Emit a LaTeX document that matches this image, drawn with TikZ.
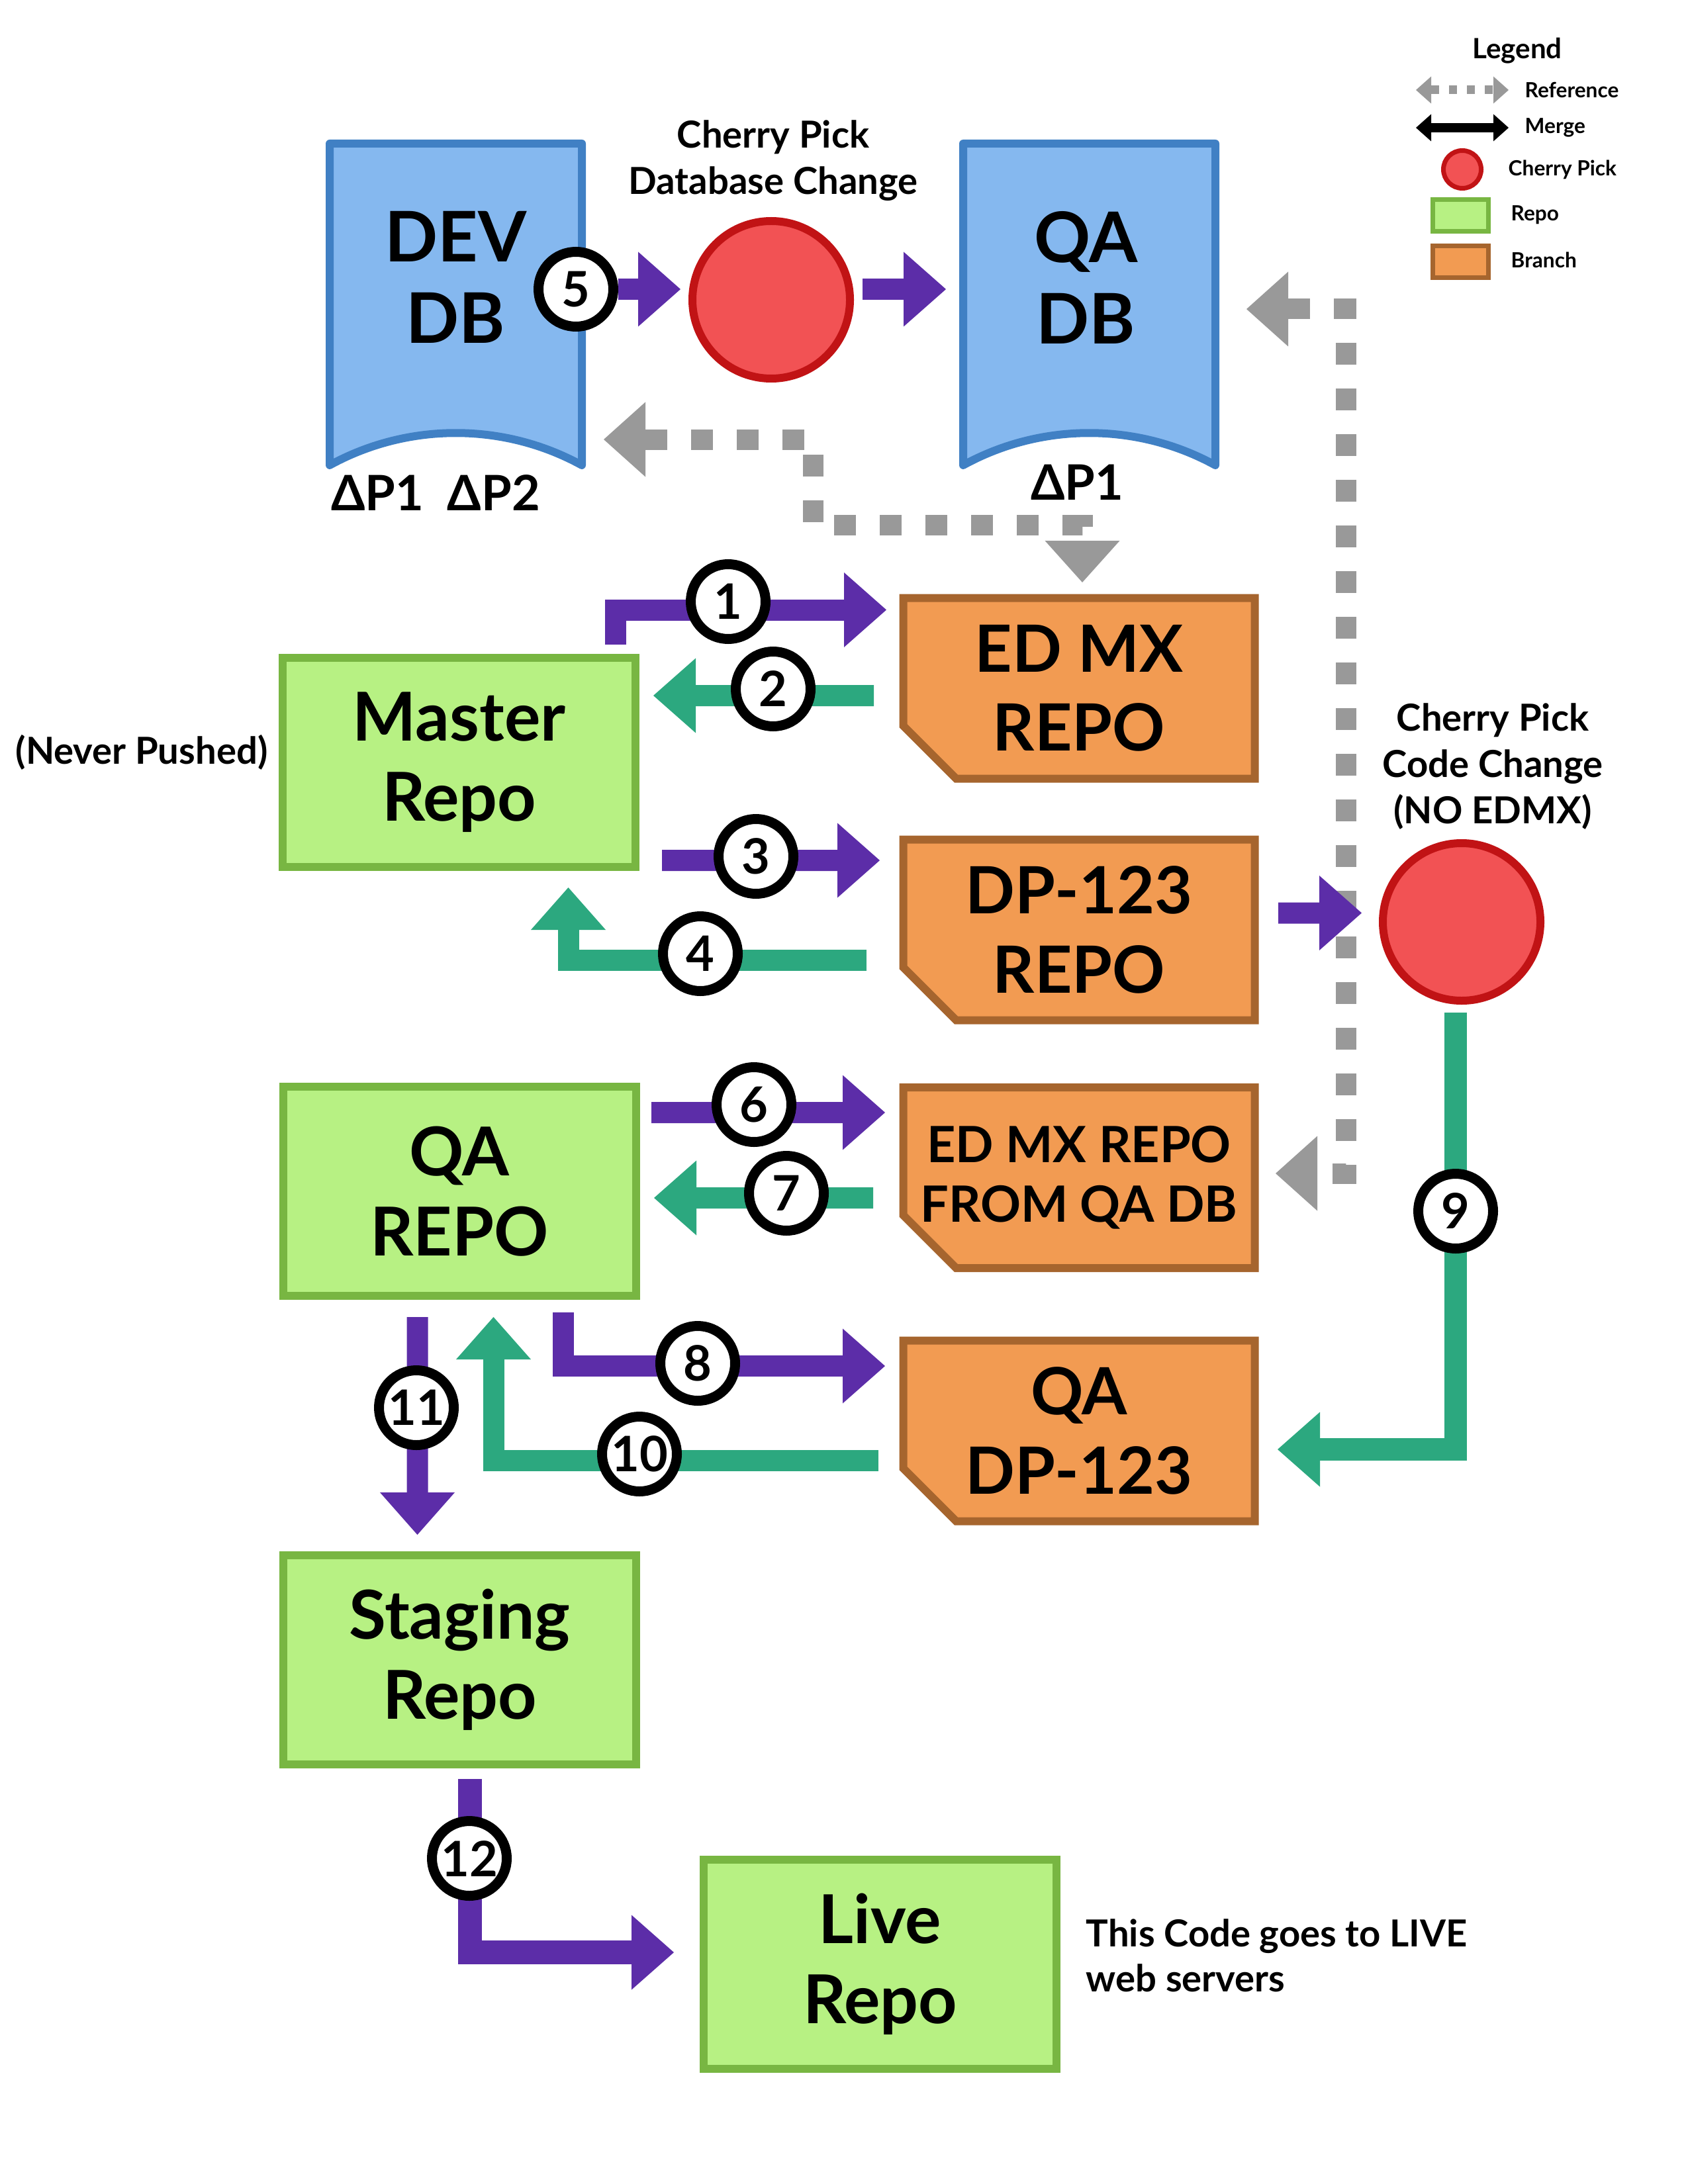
\documentclass[tikz,border=0pt]{standalone}
\usepackage{fontspec}
\setmainfont{Lato}
\usetikzlibrary{arrows.meta,shapes.misc,positioning}

\definecolor{dbfill}{RGB}{133,184,239}
\definecolor{dbline}{RGB}{64,128,196}
\definecolor{repofill}{RGB}{183,241,131}
\definecolor{repoline}{RGB}{120,182,66}
\definecolor{branchfill}{RGB}{242,155,82}
\definecolor{branchline}{RGB}{166,101,46}
\definecolor{pickfill}{RGB}{242,82,84}
\definecolor{pickline}{RGB}{193,19,21}
\definecolor{pushcol}{RGB}{92,45,168}
\definecolor{pullcol}{RGB}{44,168,127}
\definecolor{refgray}{RGB}{153,153,153}

\tikzset{
  repo/.style={draw=repoline, fill=repofill, line width=0.12cm, minimum width=5.33cm,
    minimum height=3.16cm, inner sep=0pt, align=center,
    font=\fontsize{29}{34.5}\selectfont\bfseries},
  branch/.style={chamfered rectangle, chamfered rectangle corners=south west,
    chamfered rectangle xsep=0.68cm, draw=branchline, fill=branchfill, line width=0.12cm,
    minimum width=5.31cm, minimum height=2.73cm, inner sep=0pt, align=center,
    font=\fontsize{28}{34}\selectfont\bfseries},
  dbbox/.style={minimum width=3.81cm, minimum height=4.86cm, inner sep=0pt, outer sep=0pt},
  dbshape/.style={draw=dbline, fill=dbfill, line width=0.12cm, line join=round},
  dbtext/.style={align=center, font=\fontsize{30}{35}\selectfont\bfseries},
  delta/.style={font=\fontsize{21}{25}\selectfont\bfseries},
  pick/.style={circle, draw=pickline, fill=pickfill, line width=0.12cm, minimum size=2.38cm, inner sep=0pt},
  note/.style={align=center, font=\fontsize{16}{20}\selectfont\bfseries},
  badge/.style={circle, draw=black, fill=white, line width=0.15cm, minimum size=1.13cm,
    inner sep=0pt, font=\fontsize{21}{21}\selectfont\bfseries},
  push/.style={draw=pushcol, line width=0.32cm, -{Triangle[length=0.64cm,width=1.13cm,line width=0pt]}},
  pull/.style={draw=pullcol, line width=0.32cm, -{Triangle[length=0.64cm,width=1.13cm,line width=0pt]}},
  refline/.style={draw=refgray, line width=0.31cm, dash pattern=on 0.33cm off 0.36cm,
    {Triangle[length=0.63cm,width=1.13cm,line width=0pt]}-{Triangle[length=0.63cm,width=1.13cm,line width=0pt]}},
  legendtext/.style={anchor=west, inner sep=0pt, font=\fontsize{9}{11}\selectfont\bfseries},
}

\begin{document}
\begin{tikzpicture}
    \useasboundingbox (0,0) rectangle (25.5,-33);

    % Legend
    \node[font=\fontsize{12}{14}\selectfont\bfseries] (legend) at (22.92,-0.77) {Legend};
    \coordinate (refleft) at (21.39,-1.36);
    \coordinate (refright) at (22.79,-1.36);
    \draw[draw=refgray, line width=0.13cm, dash pattern=on 0.12cm off 0.15cm,
      {Triangle[length=0.23cm,width=0.41cm,line width=0pt]}-{Triangle[length=0.23cm,width=0.41cm,line width=0pt]}]
      (refleft) -- (refright);
    \node[legendtext] (reftext) at (23.03,-1.36) {Reference};
    \coordinate (mergeleft) at (21.39,-1.93);
    \coordinate (mergeright) at (22.79,-1.93);
    \draw[line width=0.14cm,
      {Triangle[length=0.23cm,width=0.41cm,line width=0pt]}-{Triangle[length=0.23cm,width=0.41cm,line width=0pt]}]
      (mergeleft) -- (mergeright);
    \node[legendtext] (mergetext) at (23.03,-1.93) {Merge};
    \node[pick, minimum size=0.57cm, line width=0.07cm] (legendpick) at (22.09,-2.56) {};
    \node[legendtext] (picktext) at (22.78,-2.56) {Cherry Pick};
    \node[repo, minimum width=0.84cm, minimum height=0.48cm, line width=0.07cm] (legendrepo) at (22.065,-3.255) {};
    \node[legendtext] (repotext) at (22.82,-3.25) {Repo};
    \node[branch, minimum width=0.84cm, minimum height=0.48cm, line width=0.07cm,
      chamfered rectangle xsep=0.2cm] (legendbranch) at (22.065,-3.955) {};
    \node[legendtext] (branchtext) at (22.82,-3.93) {Branch};

    % Databases
    \node[dbbox] (devdb) at (6.885,-4.60) {};
    \draw[dbshape] (devdb.north west) -- (devdb.north east) -- (devdb.south east)
      .. controls +(-1.18,0.65) and +(1.18,0.65) .. (devdb.south west) -- cycle;
    \node[dbtext] (devdbtext) at ([yshift=4.1mm]devdb.center) {DEV\\DB};
    \node[delta] (devdbdelta) at (6.58,-7.45) {ΔP1\ \ ΔP2};

    \node[dbbox] (qadb) at (16.455,-4.60) {};
    \draw[dbshape] (qadb.north west) -- (qadb.north east) -- (qadb.south east)
      .. controls +(-1.18,0.65) and +(1.18,0.65) .. (qadb.south west) -- cycle;
    \node[dbtext] (qadbtext) at ([yshift=4.1mm,xshift=-0.5mm]qadb.center) {QA\\DB};
    \node[delta] (qadbdelta) at (16.27,-7.29) {ΔP1};

    % Cherry pick of the database change
    \node[pick] (pickdb) at (11.65,-4.53) {};
    \node[note] (pickdbtext) at (11.68,-2.43) {Cherry Pick\\Database Change};
    \node[badge] (b5) at (8.70,-4.37) {5};
    \draw[push] (b5.east) -- ([xshift=-1.2mm,yshift=1.6mm]pickdb.west);
    \draw[push] ([xshift=1.3mm,yshift=1.6mm]pickdb.east) -- ([xshift=-2.6mm,yshift=2.3mm]qadb.west);

    % Repos
    \node[repo] (master) at (6.935,-11.52) {Master\\Repo};
    \node[note] (nevertext) at (2.14,-11.37) {(Never Pushed)};
    \node[repo] (qarepo) at (6.94,-18.0) {QA\\REPO};
    \node[repo] (staging) at (6.945,-25.08) {Staging\\Repo};
    \node[repo] (live) at (13.295,-29.68) {Live\\Repo};
    \node[note, anchor=west, align=left, inner sep=0pt, font=\fontsize{16}{19.5}\selectfont\bfseries] (livetext)
      at (16.40,-29.55) {This Code goes to LIVE\\web servers};

    % Branches
    \node[branch] (edmx) at (16.30,-10.40) {ED MX\\REPO};
    \node[branch] (dprepo) at (16.30,-14.05) {DP-123\\REPO};
    \node[branch, font=\fontsize{21.5}{25.6}\selectfont\bfseries] (edmxqa) at (16.30,-17.795)
      {\makebox[3.5cm]{ED MX REPO}\\\makebox[3.5cm]{FROM QA DB}};
    \node[branch] (qadp) at (16.30,-21.62) {QA\\DP-123};

    % Cherry pick of the code change
    \node[pick] (pickcode) at (22.08,-13.93) {};
    \node[note] (pickcodetext) at (22.55,-11.58) {Cherry Pick\\Code Change\\(NO EDMX)};

    % References
    \draw[refline] ([xshift=3.3mm,yshift=-20.4mm]devdb.east) -- ++(3.16,0) -- ++(0,-1.29)
      -| ([xshift=0.5mm,yshift=1.75mm]edmx.north);
    \draw[refline] ([xshift=4.7mm,yshift=-0.7mm]qadb.east) -- ++(1.50,0)
      |- ([xshift=2.55mm,yshift=0.65mm]edmxqa.east);

    % Merges
    \draw[push] ([xshift=-3.65mm,yshift=1.4mm]master.north east) |- ([xshift=-1.95mm,yshift=11.85mm]edmx.west);
    \draw[pull] ([xshift=-3.85mm,yshift=-1.1mm]edmx.west) -- ([xshift=2.1mm,yshift=10.1mm]master.east);
    \draw[push] ([xshift=3.4mm,yshift=-14.8mm]master.east) -- ([xshift=-2.95mm,yshift=10.5mm]dprepo.west);
    \draw[pull] ([xshift=-4.95mm,yshift=-4.6mm]dprepo.west) -| ([xshift=-10.75mm,yshift=-2.5mm]master.south east);
    \draw[push] ([xshift=2.95mm,yshift=2.55mm]dprepo.east) -- ([xshift=-2.6mm,yshift=1.35mm]pickcode.west);
    \draw[pull, line width=0.34cm] ([xshift=-0.9mm,yshift=-1.2mm]pickcode.south) |- ([xshift=2.85mm,yshift=-2.8mm]qadp.east);
    \draw[push] ([xshift=1.75mm,yshift=11.9mm]qarepo.east) -- ([xshift=-2.15mm,yshift=9.85mm]edmxqa.west);
    \draw[pull] ([xshift=-3.95mm,yshift=-3.05mm]edmxqa.west) -- ([xshift=2.15mm,yshift=-1mm]qarepo.east);
    \draw[push] ([xshift=15.65mm,yshift=-1.9mm]qarepo.south) |- ([xshift=-2.15mm,yshift=9.8mm]qadp.west);
    \draw[pull] ([xshift=-3.15mm,yshift=-4.5mm]qadp.west) -| ([xshift=5.15mm,yshift=-2.6mm]qarepo.south);
    \draw[push] ([xshift=-6.35mm,yshift=-2.6mm]qarepo.south) -- ([xshift=-6.4mm,yshift=2.5mm]staging.north);
    \draw[push, line width=0.36cm] ([xshift=1.55mm,yshift=-1.6mm]staging.south) |- ([xshift=-3.9mm,yshift=1.8mm]live.west);

    % Step numbers
    \node[badge] (b1) at (11.0,-9.09) {1};
    \node[badge] (b2) at (11.68,-10.41) {2};
    \node[badge] (b3) at (11.42,-12.94) {3};
    \node[badge] (b4) at (10.58,-14.41) {4};
    \node[badge] (b6) at (11.39,-16.69) {6};
    \node[badge] (b7) at (11.88,-18.03) {7};
    \node[badge] (b8) at (10.54,-20.60) {8};
    \node[badge] (b9) at (21.99,-18.30) {9};
    \node[badge] (b10) at (9.66,-21.97) {10};
    \node[badge] (b11) at (6.29,-21.27) {11};
    \node[badge] (b12) at (7.09,-28.08) {12};

\end{tikzpicture}
\end{document}
